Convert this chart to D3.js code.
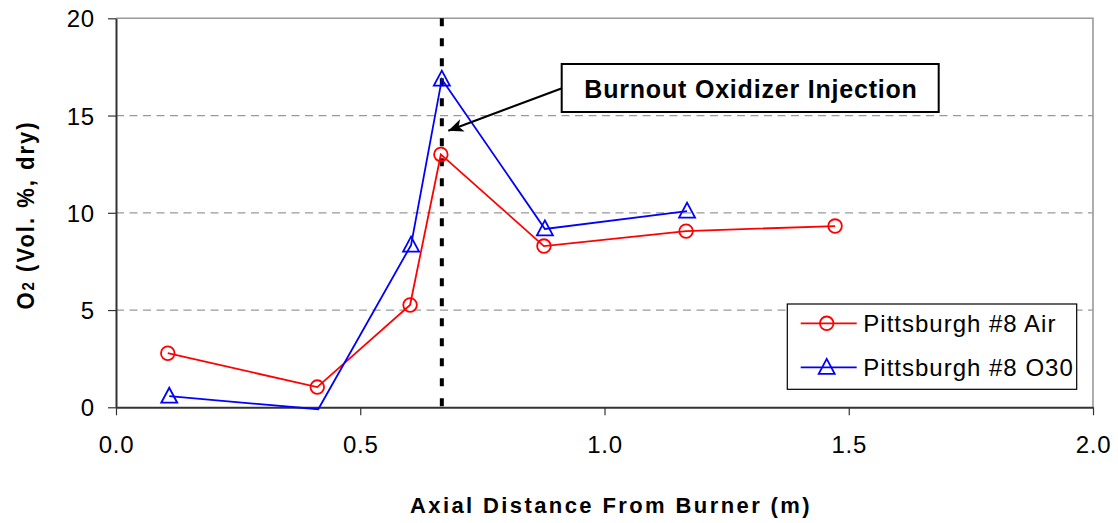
<!DOCTYPE html>
<html>
<head>
<meta charset="utf-8">
<script src="https://cdn.jsdelivr.net/npm/d3@7"></script>
<style>
  html, body { margin: 0; padding: 0; background: #fff; }
  svg { display: block; font-family: "Liberation Sans", Arial, sans-serif; }
</style>
</head>
<body>
<svg id="chart" width="1118" height="523"></svg>
<script>
// ---- data ----
const airX  = [0.106, 0.412, 0.602, 0.665, 0.876, 1.167, 1.472];
const airY  = [2.78, 1.04, 5.26, 13.0, 8.29, 9.06, 9.32];
const o30X  = [0.109, 0.414, 0.604, 0.667, 0.878, 1.169];
const o30Y  = [0.57, -0.1, 8.34, 16.87, 9.17, 10.09];
const xTicks = [0.0, 0.5, 1.0, 1.5, 2.0];
const yTicks = [0, 5, 10, 15, 20];
const injectionX = 0.667;
const seriesNames = ["Pittsburgh #8 Air", "Pittsburgh #8 O30"];
const annotationText = "Burnout Oxidizer Injection";

const svg = d3.select("#chart");
const L = 116, R = 1093, T = 18.3, B = 407.3;
const x = d3.scaleLinear().domain([0, 2]).range([L, R]);
const y = d3.scaleLinear().domain([0, 20]).range([B, T]);

// grid lines
svg.append("g").selectAll("line").data(yTicks.filter(v => v > 0 && v < 20)).join("line")
  .attr("x1", L).attr("x2", R).attr("y1", d => y(d)).attr("y2", d => y(d))
  .attr("stroke", "#999").attr("stroke-width", 1.2).attr("stroke-dasharray", "8,5.5");

// plot frame top/right (grey)
svg.append("path").attr("d", `M${L},${y(20)}H${R}V${B}`).attr("fill", "none")
  .attr("stroke", "#9a9a9a").attr("stroke-width", 1.6);

// axes
const xAxis = d3.axisBottom(x).tickValues(xTicks).tickFormat(d3.format(".1f")).tickSize(8).tickSizeOuter(0);
const gx = svg.append("g").attr("transform", `translate(0,${B})`).call(xAxis);
gx.select(".domain").attr("stroke", "#333").attr("stroke-width", 2);
gx.selectAll(".tick line").attr("stroke", "#333").attr("stroke-width", 1.2);
gx.selectAll(".tick text").attr("font-size", 24).attr("letter-spacing", 0.8).attr("fill", "#000")
  .attr("dy", null).attr("y", 46)
  .attr("font-family", "Liberation Sans, Arial, sans-serif");

const yAxis = d3.axisLeft(y).tickValues(yTicks).tickFormat(d3.format("d")).tickSize(8).tickSizeOuter(0);
const gy = svg.append("g").attr("transform", `translate(${L},0)`).call(yAxis);
gy.select(".domain").attr("stroke", "#333").attr("stroke-width", 2);
gy.selectAll(".tick line").attr("stroke", "#333").attr("stroke-width", 1.2);
gy.selectAll(".tick text").attr("font-size", 24).attr("letter-spacing", 0.8).attr("fill", "#000")
  .attr("x", -21).attr("dy", "0.36em")
  .attr("font-family", "Liberation Sans, Arial, sans-serif");

// injection line
svg.append("line").attr("x1", x(injectionX)).attr("x2", x(injectionX)).attr("y1", y(20)).attr("y2", B)
  .attr("stroke", "#000").attr("stroke-width", 4).attr("stroke-dasharray", "8,12");

// series
const line = d3.line().x(d => x(d[0])).y(d => y(d[1]));
const air = airX.map((v, i) => [v, airY[i]]);
const o30 = o30X.map((v, i) => [v, o30Y[i]]);

svg.append("path").datum(air).attr("d", line).attr("fill", "none").attr("stroke", "#ff0000").attr("stroke-width", 1.8);
svg.append("path").datum(o30).attr("d", line).attr("fill", "none").attr("stroke", "#0000ff").attr("stroke-width", 1.8);

const triPath = "M0,-8.5L8,6.5L-8,6.5Z";
svg.append("g").selectAll("circle").data(air.filter(d => d[1] >= 0)).join("circle")
  .attr("cx", d => x(d[0])).attr("cy", d => y(d[1])).attr("r", 6.8)
  .attr("fill", "none").attr("stroke", "#ff0000").attr("stroke-width", 1.8);
svg.append("g").selectAll("path").data(o30.filter(d => d[1] >= 0)).join("path")
  .attr("transform", d => `translate(${x(d[0])},${y(d[1])})`).attr("d", triPath)
  .attr("fill", "none").attr("stroke", "#0000ff").attr("stroke-width", 1.8);

// annotation arrow
const defs = svg.append("defs");
defs.append("marker").attr("id", "ah").attr("viewBox", "-16 -8 18 16").attr("refX", 0).attr("refY", 0)
  .attr("markerWidth", 18).attr("markerHeight", 16).attr("markerUnits", "userSpaceOnUse").attr("orient", "auto")
  .append("path").attr("d", "M0,0L-15,-6.5L-11,0L-15,6.5Z").attr("fill", "#000");
svg.append("line").attr("x1", 562).attr("y1", 88.3).attr("x2", 448.3).attr("y2", 130.7)
  .attr("stroke", "#000").attr("stroke-width", 2).attr("marker-end", "url(#ah)");

svg.append("rect").attr("x", 561.7).attr("y", 64).attr("width", 377).attr("height", 48)
  .attr("fill", "#fff").attr("stroke", "#000").attr("stroke-width", 2);
svg.append("text").attr("x", 751).attr("y", 97.5).attr("text-anchor", "middle")
  .attr("font-size", 25).attr("font-weight", "bold").attr("letter-spacing", 0.8).text(annotationText);

// legend
const lg = svg.append("g");
lg.append("rect").attr("x", 787.3).attr("y", 304).attr("width", 289.4).attr("height", 85.3)
  .attr("fill", "#fff").attr("stroke", "#000").attr("stroke-width", 1.2);
const rows = [323.3, 367.3];
[["#ff0000", "c"], ["#0000ff", "t"]].forEach((s, i) => {
  const yy = rows[i];
  lg.append("line").attr("x1", 800.7).attr("x2", 856.7).attr("y1", yy).attr("y2", yy)
    .attr("stroke", s[0]).attr("stroke-width", 1.8);
  if (s[1] === "c") {
    lg.append("circle").attr("cx", 826.7).attr("cy", yy).attr("r", 6.8).attr("fill", "none")
      .attr("stroke", s[0]).attr("stroke-width", 1.8);
  } else {
    lg.append("path").attr("transform", `translate(826.7,${yy})`).attr("d", triPath).attr("fill", "none")
      .attr("stroke", s[0]).attr("stroke-width", 1.8);
  }
  lg.append("text").attr("x", 863.3).attr("y", yy).attr("dy", "0.36em").attr("font-size", 24)
    .attr("letter-spacing", 1).text(seriesNames[i]);
});

// axis titles
svg.append("text").attr("x", 611).attr("y", 513).attr("text-anchor", "middle")
  .attr("font-size", 22).attr("font-weight", "bold").attr("letter-spacing", 2.4)
  .text("Axial Distance From Burner (m)");

const yt = svg.append("g").attr("transform", "translate(34,215) scale(1.12,1)")
  .append("text").attr("transform", "rotate(-90)").attr("text-anchor", "middle")
  .attr("font-size", 22).attr("font-weight", "bold").attr("letter-spacing", 2);
yt.append("tspan").text("O");
yt.append("tspan").attr("font-size", 15).text("2");
yt.append("tspan").text(" (Vol. %, dry)");
</script>
</body>
</html>
